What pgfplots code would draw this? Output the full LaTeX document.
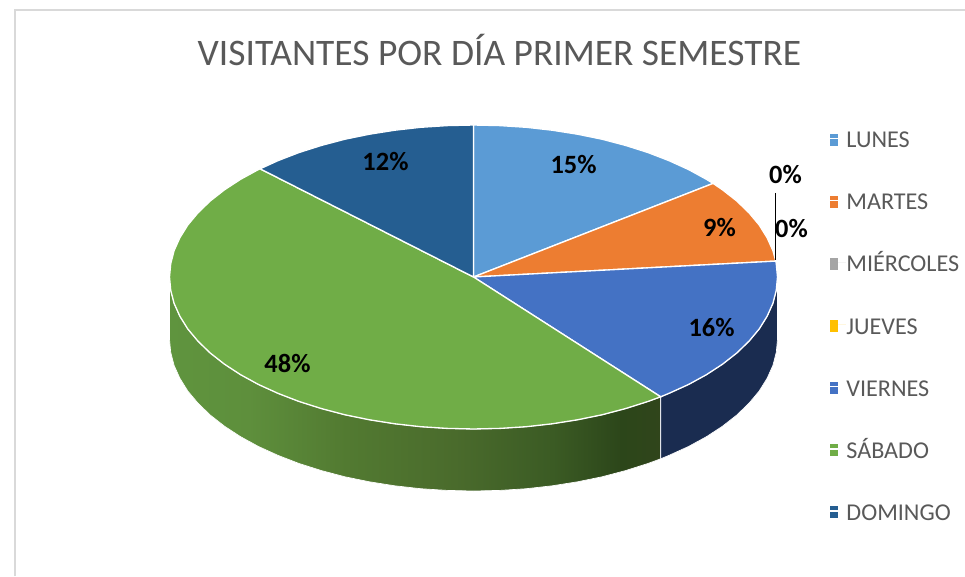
\documentclass[border=0pt]{standalone}
\usepackage{pgfplots}
\pgfplotsset{compat=1.18}
\usepackage{fontspec}
\setmainfont{Carlito}

\definecolor{lunes}{HTML}{5B9BD5}
\definecolor{martes}{HTML}{ED7D31}
\definecolor{miercoles}{HTML}{A5A5A5}
\definecolor{jueves}{HTML}{FFC000}
\definecolor{viernes}{HTML}{4472C4}
\definecolor{sabado}{HTML}{70AD47}
\definecolor{domingo}{HTML}{255E91}
\definecolor{sideblue}{HTML}{1A2C50}
\definecolor{greyt}{HTML}{595959}
\definecolor{sa}{HTML}{5F943E}
\definecolor{sb}{HTML}{5E8F3C}
\definecolor{sc}{HTML}{527A31}
\definecolor{sd}{HTML}{4A6B2C}
\definecolor{se}{HTML}{3B5B24}
\definecolor{sf}{HTML}{2C461A}
\definecolor{sg}{HTML}{30451B}

% the inner 25..75bp is what lands on the bounding box
\pgfdeclarehorizontalshading{greenside}{100bp}{
  color(0bp)=(sa); color(25bp)=(sa); color(33bp)=(sb); color(43bp)=(sc);
  color(54bp)=(sd); color(64bp)=(se); color(71bp)=(sf); color(75bp)=(sg);
  color(100bp)=(sg)}

\begin{document}
\begin{tikzpicture}
\begin{axis}[
  scale only axis, width=723.75pt, height=432pt,
  xmin=-473.5, xmax=491.5, ymin=-299, ymax=277,
  axis lines=none,
  legend image code/.code={\path[#1, draw=none] (0pt,-5.5pt) rectangle (6pt,3.5pt);\path (0pt,0pt) -- (11.5pt,0pt);},
  legend style={
    at={(axis cs:352,151)}, anchor=north west, draw=none, fill=none,
    font=\fontsize{18.1pt}{18pt}\selectfont, text=greyt, row sep=32.6pt,
    nodes={inner sep=0pt, text height=14pt, text depth=0pt},
  },
  legend cell align=left,
]
% keeps the page at the full canvas, the hidden axis does not count
\path (axis cs:-473.5,-299) rectangle (axis cs:491.5,277);

% frame
\addplot[forget plot, draw=black!15, line width=1.5pt]
  coordinates {(-458.5,-299)(-458.5,267)(491.5,267)};

% side walls
\addplot[forget plot, shade, shading=greenside, draw=white, line width=0.5pt] coordinates {
  (187.2,-119.8)(174.4,-124.5)(152,-131.6)(128.5,-137.8)(104,-142.8)(78.7,-146.8)(52.8,-149.7)(26.5,-151.4)
  (0,-152)(-26.5,-151.4)(-52.8,-149.7)(-78.7,-146.8)(-104,-142.8)(-128.5,-137.8)(-152,-131.6)(-174.4,-124.5)
  (-195.4,-116.4)(-215,-107.5)(-232.9,-97.7)(-249,-87.2)(-263.3,-76)(-275.5,-64.2)(-285.7,-52)(-293.6,-39.3)
  (-299.4,-26.4)(-302.8,-13.2)(-304,0)
  (-304,-62)(-302.8,-75.2)(-299.4,-88.4)(-293.6,-101.3)(-285.7,-114)(-275.5,-126.2)(-263.3,-138)(-249,-149.2)
  (-232.9,-159.7)(-215,-169.5)(-195.4,-178.4)(-174.4,-186.5)(-152,-193.6)(-128.5,-199.8)(-104,-204.8)(-78.7,-208.8)
  (-52.8,-211.7)(-26.5,-213.4)(0,-214)(26.5,-213.4)(52.8,-211.7)(78.7,-208.8)(104,-204.8)(128.5,-199.8)
  (152,-193.6)(174.4,-186.5)(187.2,-181.8)(187.2,-119.8)};
\addplot[forget plot, fill=sideblue, draw=white, line width=0.5pt] coordinates {
  (304,0)(302.8,-13.2)(299.4,-26.4)(293.6,-39.3)(285.7,-52)(275.5,-64.2)(263.3,-76)(249,-87.2)(232.9,-97.7)
  (215,-107.5)(195.4,-116.4)(187.2,-119.8)
  (187.2,-181.8)(195.4,-178.4)(215,-169.5)(232.9,-159.7)(249,-149.2)(263.3,-138)(275.5,-126.2)(285.7,-114)
  (293.6,-101.3)(299.4,-88.4)(302.8,-75.2)(304,-62)(304,0)};

% top face, one slice per day
\addplot[fill=lunes, draw=white, line width=1pt] coordinates {
  (0,0)(0,152)(26.5,151.4)(52.8,149.7)(78.7,146.8)(104,142.8)(128.5,137.8)(152,131.6)(174.4,124.5)
  (195.4,116.4)(215,107.5)(232.9,97.7)(239.6,93.6)(0,0)};
\addlegendentry{LUNES}
\addplot[fill=martes, draw=white, line width=1pt] coordinates {
  (0,0)(239.6,93.6)(249,87.2)(263.3,76)(275.5,64.2)(285.7,52)(293.6,39.3)(299.4,26.4)(302.3,15.9)(0,0)};
\addlegendentry{MARTES}
\addplot[fill=miercoles, draw=none] coordinates {(0,0)(302.3,15.9)(0,0)};
\addlegendentry{MIÉRCOLES}
\addplot[fill=jueves, draw=none] coordinates {(0,0)(302.3,15.9)(0,0)};
\addlegendentry{JUEVES}
\addplot[fill=viernes, draw=white, line width=1pt] coordinates {
  (0,0)(302.3,15.9)(302.8,13.2)(304,0)(302.8,-13.2)(299.4,-26.4)(293.6,-39.3)(285.7,-52)(275.5,-64.2)
  (263.3,-76)(249,-87.2)(232.9,-97.7)(215,-107.5)(195.4,-116.4)(187.2,-119.8)(0,0)};
\addlegendentry{VIERNES}
\addplot[fill=sabado, draw=white, line width=1pt] coordinates {
  (0,0)(187.2,-119.8)(174.4,-124.5)(152,-131.6)(128.5,-137.8)(104,-142.8)(78.7,-146.8)(52.8,-149.7)(26.5,-151.4)
  (0,-152)(-26.5,-151.4)(-52.8,-149.7)(-78.7,-146.8)(-104,-142.8)(-128.5,-137.8)(-152,-131.6)(-174.4,-124.5)
  (-195.4,-116.4)(-215,-107.5)(-232.9,-97.7)(-249,-87.2)(-263.3,-76)(-275.5,-64.2)(-285.7,-52)(-293.6,-39.3)
  (-299.4,-26.4)(-302.8,-13.2)(-304,0)(-302.8,13.2)(-299.4,26.4)(-293.6,39.3)(-285.7,52)(-275.5,64.2)(-263.3,76)
  (-249,87.2)(-232.9,97.7)(-215,107.5)(-213.4,108.2)(0,0)};
\addlegendentry{SÁBADO}
\addplot[fill=domingo, draw=white, line width=1pt] coordinates {
  (0,0)(-213.4,108.2)(-195.4,116.4)(-174.4,124.5)(-152,131.6)(-128.5,137.8)(-104,142.8)(-78.7,146.8)
  (-52.8,149.7)(-26.5,151.4)(0,152)(0,0)};
\addlegendentry{DOMINGO}

% leader line of the zero label
\addplot[forget plot, draw=black, line width=0.8pt] coordinates {(302,84)(302,17)};

\begin{scope}[every node/.style={font=\fontsize{19.8pt}{20pt}\selectfont\bfseries, text=black, inner sep=0pt}]
\node at (axis cs:100,112) {15\%};
\node at (axis cs:-88,115) {12\%};
\node at (axis cs:246,49) {9\%};
\node at (axis cs:238,-51) {16\%};
\node at (axis cs:-186,-86) {48\%};
\node at (axis cs:312,102) {0\%};
\node at (axis cs:318,48) {0\%};
\end{scope}

\node[font=\fontsize{28.1pt}{29pt}\selectfont, text=greyt, inner sep=0pt]
  at (axis cs:26,227) {VISITANTES POR DÍA PRIMER SEMESTRE};
\end{axis}
\end{tikzpicture}
\end{document}
